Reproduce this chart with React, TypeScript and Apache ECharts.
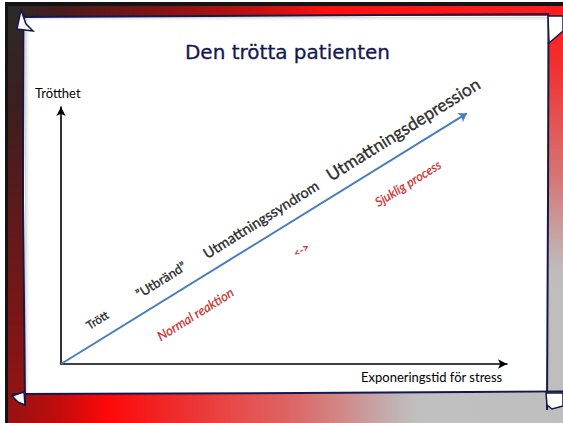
import React, { useEffect, useRef } from "react";
import * as echarts from "echarts";

// ---- data (chart coordinates: 0..100 on both axes) ----
const titleText = "Den trötta patienten";
const yAxisName = "Trötthet";
const xAxisName = "Exponeringstid för stress";

const trendLine = [
  [0, 0],
  [91, 97.5],
];

const stageLabels = ["Trött", "”Utbränd”", "Utmattningssyndrom", "Utmattningsdepression"];
const stageX = [8.1, 22.4, 44.8, 76.7];
const stageY = [17.2, 32.8, 56.3, 91.4];

const noteLabels = ["Normal reaktion", "Sjuklig process", "<->"];
const noteX = [30.1, 77.8, 53.8];
const noteY = [19.5, 70.3, 44.5];

// ---- styles ----
const FONT = "Lato, 'Open Sans', sans-serif";
const NAVY = "#15184a";
const stageFontSizes = [11.5, 13, 14.5, 17.5];
const noteFontSizes = [13, 12.5, 11];

function grad(x: number, y: number, x2: number, y2: number, stops: [number, string][]) {
  return new echarts.graphic.LinearGradient(
    x,
    y,
    x2,
    y2,
    stops.map(([offset, color]) => ({ offset, color })),
    true
  );
}

export default function App() {
  const ref = useRef<HTMLDivElement>(null);

  useEffect(() => {
    if (!ref.current) return;
    const chart = echarts.init(ref.current, undefined, { renderer: "svg" });

    const W = 563;
    const H = 423;

    const graphic: any[] = [
      // black edge
      { type: "rect", z: -100, silent: true, shape: { x: 5, y: 2, width: W - 5, height: H - 2 }, style: { fill: "#141414" } },
      // left strip
      {
        type: "rect", z: -99, silent: true,
        shape: { x: 8, y: 6, width: 18, height: H - 6 },
        style: { fill: grad(0, 6, 0, H, [[0, "#2a2a2a"], [0.25, "#3e1e1e"], [0.5, "#5e1a1a"], [0.75, "#7a1616"], [1, "#9a1212"]]) },
      },
      // top strip
      {
        type: "rect", z: -99, silent: true,
        shape: { x: 8, y: 6, width: W - 8, height: 12 },
        style: { fill: grad(8, 0, W, 0, [[0, "#2a2a2a"], [0.1, "#4a1c1c"], [0.26, "#801414"], [0.44, "#c01010"], [0.58, "#ff1010"], [1, "#ff1e1e"]]) },
      },
      // right strip
      {
        type: "rect", z: -99, silent: true,
        shape: { x: 546, y: 6, width: W - 546, height: H - 6 },
        style: { fill: grad(0, 6, 0, 395, [[0, "#ff1a1a"], [0.15, "#f03030"], [0.3, "#e45454"], [0.45, "#d47878"], [0.58, "#c8a0a0"], [0.68, "#c0bcbc"], [1, "#bebebe"]]) },
      },
      // bottom strip
      {
        type: "rect", z: -98, silent: true,
        shape: { x: 8, y: 392, width: W - 8, height: H - 392 },
        style: { fill: grad(8, 0, W, 0, [[0, "#951212"], [0.09, "#c00c0c"], [0.18, "#ff0808"], [0.29, "#f02828"], [0.43, "#e65050"], [0.52, "#dc6868"], [0.61, "#d08c8c"], [0.69, "#c2b0b0"], [0.74, "#c0c0c0"], [1, "#bebebe"]]) },
      },
      // white slide
      { type: "rect", z: -97, silent: true, shape: { x: 24, y: 16, width: 524, height: 377 }, style: { fill: "#ffffff" } },
      // inner shadows
      {
        type: "rect", z: -96, silent: true,
        shape: { x: 25, y: 17, width: 6, height: 375 },
        style: { fill: grad(25, 0, 31, 0, [[0, "rgba(120,120,120,0.35)"], [1, "rgba(255,255,255,0)"]]) },
      },
      {
        type: "rect", z: -96, silent: true,
        shape: { x: 25, y: 17, width: 522, height: 5 },
        style: { fill: grad(0, 17, 0, 22, [[0, "rgba(120,120,120,0.3)"], [1, "rgba(255,255,255,0)"]]) },
      },
      // border lines
      { type: "polyline", z: -90, silent: true, shape: { points: [[20, 17], [300, 15.5], [549, 14]] }, style: { stroke: NAVY, lineWidth: 2, fill: "none" } },
      { type: "polyline", z: -90, silent: true, shape: { points: [[23.5, 14], [23, 200], [24.5, 350], [25, 406]] }, style: { stroke: NAVY, lineWidth: 2, fill: "none" } },
      { type: "polyline", z: -90, silent: true, shape: { points: [[12, 394], [300, 393], [563, 391.5]] }, style: { stroke: NAVY, lineWidth: 2, fill: "none" } },
      { type: "polyline", z: -90, silent: true, shape: { points: [[548.5, 14], [548, 200], [547, 410]] }, style: { stroke: NAVY, lineWidth: 2, fill: "none" } },
      // corner folds
      { type: "polygon", z: -89, silent: true, shape: { points: [[21, 10], [17, 29], [33, 31], [26, 24]] }, style: { fill: "#ffffff", stroke: NAVY, lineWidth: 1.5 } },
      { type: "polygon", z: -89, silent: true, shape: { points: [[12, 396], [24, 392], [25, 405], [18, 402]] }, style: { fill: "#ffffff", stroke: NAVY, lineWidth: 1.5 } },
      { type: "polygon", z: -89, silent: true, shape: { points: [[548, 16], [563, 16], [563, 31], [549, 43]] }, style: { fill: "#ffffff", stroke: NAVY, lineWidth: 1.5 } },
      { type: "polygon", z: -89, silent: true, shape: { points: [[546, 393], [563, 393], [563, 406], [552, 409], [547, 405]] }, style: { fill: "#ffffff", stroke: NAVY, lineWidth: 1.5 } },
      // title
      {
        type: "text", z: 10, silent: true, x: 287.5, y: 52,
        style: { text: titleText, fill: "#141850", font: "20px 'DejaVu Sans', sans-serif", textAlign: "center", textVerticalAlign: "middle", stroke: "#141850", lineWidth: 0.3 },
      },
      // axis names
      {
        type: "text", z: 10, silent: true, x: 35, y: 93,
        style: { text: yAxisName, fill: "#000", font: `13px ${FONT}`, textAlign: "left", textVerticalAlign: "middle" },
      },
      {
        type: "text", z: 10, silent: true, x: 361, y: 377,
        style: { text: xAxisName, fill: "#000", font: `13px ${FONT}`, textAlign: "left", textVerticalAlign: "middle" },
      },
    ];

    const axisCommon = {
      type: "value" as const,
      min: 0,
      max: 100,
      splitLine: { show: false },
      axisTick: { show: false },
      axisLabel: { show: false },
      axisLine: {
        show: true,
        symbol: ["none", "arrow"],
        symbolSize: [7, 9],
        lineStyle: { color: "#000", width: 1.6 },
      },
    };

    chart.setOption({
      animation: false,
      backgroundColor: "#ffffff",
      grid: { left: 61, right: 56, top: 107, bottom: 59 },
      xAxis: axisCommon,
      yAxis: axisCommon,
      graphic,
      series: [
        {
          type: "lines",
          coordinateSystem: "cartesian2d",
          z: 3,
          symbol: ["none", "arrow"],
          symbolSize: 8,
          lineStyle: { color: "#4a7ebb", width: 2, opacity: 1 },
          data: [{ coords: trendLine }],
        },
        {
          type: "scatter",
          symbolSize: 0.1,
          itemStyle: { color: "rgba(0,0,0,0)" },
          z: 4,
          data: stageLabels.map((t, i) => ({
            value: [stageX[i], stageY[i]],
            name: t,
            label: { fontSize: stageFontSizes[i] },
          })),
          label: {
            show: true,
            position: "inside",
            formatter: "{b}",
            rotate: 32,
            align: "center",
            verticalAlign: "middle",
            color: "#000",
            textBorderColor: "#000",
            textBorderWidth: 0.4,
            fontFamily: FONT,
          },
        },
        {
          type: "scatter",
          symbolSize: 0.1,
          itemStyle: { color: "rgba(0,0,0,0)" },
          z: 4,
          data: noteLabels.map((t, i) => ({
            value: [noteX[i], noteY[i]],
            name: t,
            label: { fontSize: noteFontSizes[i] },
          })),
          label: {
            show: true,
            position: "inside",
            formatter: "{b}",
            rotate: 32,
            align: "center",
            verticalAlign: "middle",
            color: "#c00000",
            textBorderColor: "#c00000",
            textBorderWidth: 0.3,
            fontStyle: "italic",
            fontFamily: FONT,
          },
        },
      ],
    });

    return () => chart.dispose();
  }, []);

  return (
    <div
      ref={ref}
      style={{ position: "fixed", left: 0, top: 0, width: 563, height: 423 }}
    />
  );
}
